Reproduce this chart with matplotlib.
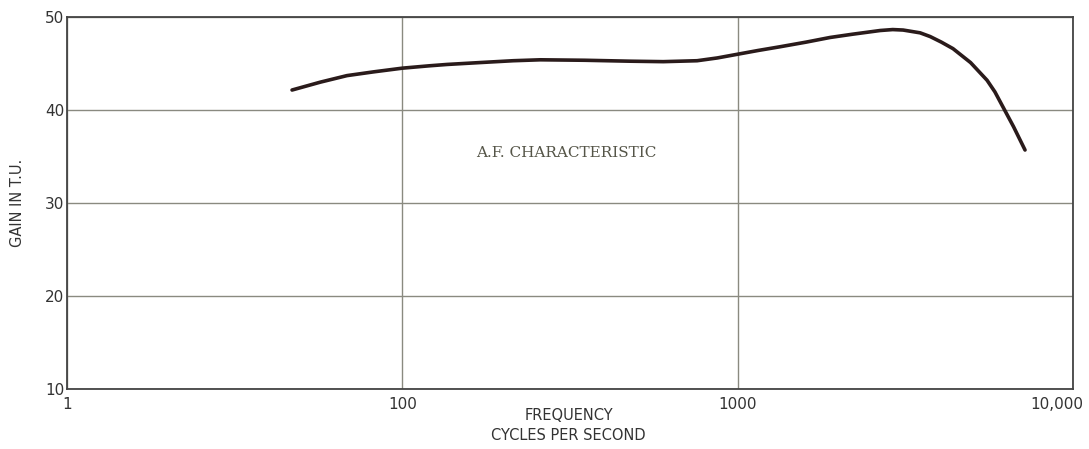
import matplotlib.pyplot as plt
import matplotlib.transforms as mtransforms
from matplotlib.ticker import FixedLocator, NullLocator

# values
freq = [46.9, 57, 68.4, 82, 100, 120, 136, 170, 214, 258, 350, 477, 600, 757,
        870, 1000, 1150, 1337, 1600, 1886, 2200, 2662, 2900, 3114, 3500, 3750,
        4050, 4387, 4950, 5543, 5850, 6147, 6650, 7194]
gain = [42.15, 43.0, 43.7, 44.1, 44.5, 44.75, 44.9, 45.1, 45.3, 45.4, 45.35, 45.25,
        45.2, 45.3, 45.6, 46.0, 46.4, 46.8, 47.3, 47.8, 48.15, 48.55, 48.65, 48.6,
        48.3, 47.9, 47.3, 46.6, 45.1, 43.2, 41.95, 40.5, 38.2, 35.7]

x_ticks = [10, 100, 1000, 10000]
x_labels = ['1', '100', '1000', '10,000']
y_ticks = [10, 20, 30, 40, 50]

fig = plt.figure(figsize=(10.89, 4.49), dpi=100)
ax = fig.add_axes([0.0615, 0.1336, 0.9238, 0.8285])

ax.set_xscale('log')
ax.set_xlim(10, 10000)
ax.set_ylim(10, 50)
ax.xaxis.set_major_locator(FixedLocator(x_ticks))
ax.xaxis.set_minor_locator(NullLocator())
ax.set_xticks(x_ticks)
ax.set_xticklabels(x_labels)
ax.set_yticks(y_ticks)
ax.tick_params(length=0, labelsize=11, colors='#333333')
ax.tick_params(axis='x', pad=6)
ax.tick_params(axis='y', pad=2)

ax.grid(True, color='#8a8a80', linewidth=1.0)
for s in ax.spines.values():
    s.set_color('#444444')
    s.set_linewidth(1.3)

ax.plot(freq, gain, color='#2a1b1b', linewidth=2.6, solid_capstyle='round',
        solid_joinstyle='round')

ax.text(308, 35.4, 'A.F. CHARACTERISTIC', family='DejaVu Serif', fontsize=11,
        color='#555548', ha='center', va='center')

ax.set_ylabel('GAIN IN T.U.', fontsize=10.5, color='#333333', labelpad=14)
fig.text(0.522, 0.052, 'FREQUENCY\nCYCLES PER SECOND', ha='center', va='center',
         fontsize=10.5, color='#333333', linespacing=1.45)

# the last tick label sits left of the axis end, as in the print
last = ax.get_xticklabels()[-1]
off = mtransforms.ScaledTranslation(-16 / 100, 0, fig.dpi_scale_trans)
last.set_transform(last.get_transform() + off)

fig.savefig('out.png', dpi=100, facecolor='white')
